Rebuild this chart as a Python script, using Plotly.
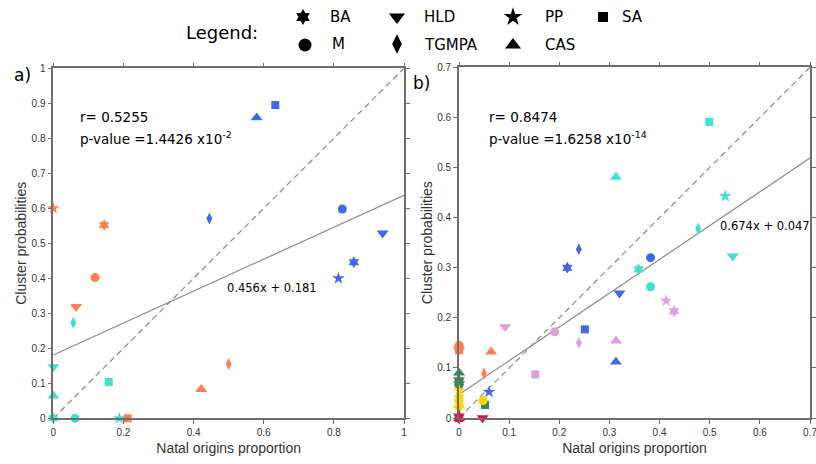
import plotly.graph_objects as go

W, H = 816, 464

symbols = ["BA", "M", "HLD", "TGMPA", "PP", "CAS", "SA"]
plotly_symbols = ["hexagram", "circle", "triangle-down", "diamond-tall", "star", "triangle-up", "square"]
symbol_sizes = [9, 9, 10.5, 8.5, 9.5, 10.5, 8]
legend_sizes = [12, 13, 14, 14, 14, 14, 10]

# Panel a) values, in symbol order BA, M, HLD, TGMPA, PP, CAS, SA
a_blue_x = [0.857, 0.824, 0.939, 0.445, 0.813, 0.580, 0.633]
a_blue_y = [0.446, 0.598, 0.529, 0.571, 0.400, 0.859, 0.895]
a_coral_x = [0.145, 0.119, 0.065, 0.500, 0.000, 0.422, 0.212]
a_coral_y = [0.552, 0.402, 0.319, 0.155, 0.600, 0.083, 0.000]
a_turq_x = [0.000, 0.062, 0.000, 0.057, 0.188, 0.000, 0.158]
a_turq_y = [0.000, 0.000, 0.147, 0.273, 0.000, 0.064, 0.104]

# Panel b) values
b_blue_x = [0.216, 0.382, 0.320, 0.239, 0.060, 0.313, 0.251]
b_blue_y = [0.300, 0.320, 0.249, 0.337, 0.052, 0.112, 0.177]
b_turq_x = [0.358, 0.382, 0.546, 0.477, 0.531, 0.313, 0.499]
b_turq_y = [0.297, 0.262, 0.323, 0.378, 0.443, 0.481, 0.591]
b_plum_x = [0.429, 0.191, 0.092, 0.239, 0.413, 0.313, 0.152]
b_plum_y = [0.213, 0.172, 0.182, 0.150, 0.234, 0.154, 0.087]
b_coral_x = [0.000, 0.000, 0.000, 0.050, 0.000, 0.064, 0.000]
b_coral_y = [0.140, 0.145, 0.136, 0.089, 0.138, 0.132, 0.135]
b_green_x = [0.000, 0.000, 0.000, 0.000, 0.000, 0.000, 0.052]
b_green_y = [0.072, 0.066, 0.068, 0.070, 0.077, 0.090, 0.026]
b_gold_x = [0.000, 0.048, 0.000, 0.000, 0.000, 0.000, 0.000]
b_gold_y = [0.040, 0.035, 0.020, 0.030, 0.055, 0.025, 0.035]
b_red_x = [0.000, 0.000, 0.047, 0.000, 0.000, 0.000, 0.000]
b_red_y = [0.000, 0.000, 0.000, 0.000, 0.005, 0.000, 0.000]

# Tick values
a_xticks = [0, 0.2, 0.4, 0.6, 0.8, 1]
a_xlabels = ["0", "0.2", "0.4", "0.6", "0.8", "1"]
a_yticks = [0, 0.1, 0.2, 0.3, 0.4, 0.5, 0.6, 0.7, 0.8, 0.9, 1]
a_ylabels = ["0", "0.1", "0.2", "0.3", "0.4", "0.5", "0.6", "0.7", "0.8", "0.9", "1"]
b_ticks = [0, 0.1, 0.2, 0.3, 0.4, 0.5, 0.6, 0.7]
b_labels = ["0", "0.1", "0.2", "0.3", "0.4", "0.5", "0.6", "0.7"]

# Regression fits
a_slope, a_icpt = 0.456, 0.181
b_slope, b_icpt = 0.674, 0.047
a_r, a_p_mant, a_p_exp = "0.5255", "1.4426", "-2"
b_r, b_p_mant, b_p_exp = "0.8474", "1.6258", "-14"
a_max, b_max = 1.0, 0.7

BLUE = "#4169E1"
TURQ = "#40E0D0"
CORAL = "#FF7F50"
PLUM = "#DDA0DD"
GREEN = "#2E8B57"
GOLD = "#FFD700"
RED = "#DC143C"

fig = go.Figure()

def px_x(p):
    return p / W

def px_y(p):
    return 1 - p / H

# Panel geometry (pixels)
A_L, A_R, A_T, A_B = 53.3, 404, 68.3, 418.3
B_L, B_R, B_T, B_B = 459, 810, 67.3, 418

def add_points(xs, ys, color, xa, ya):
    fig.add_trace(go.Scatter(
        x=xs, y=ys, mode="markers", xaxis=xa, yaxis=ya,
        marker=dict(symbol=plotly_symbols, color=color, size=symbol_sizes, opacity=1,
                    line=dict(width=0)),
        cliponaxis=False, showlegend=False, hoverinfo="x+y"))

def add_lines(mx, slope, icpt, xa, ya):
    fig.add_trace(go.Scatter(x=[0, mx], y=[0, mx], mode="lines", xaxis=xa, yaxis=ya,
                             line=dict(color="#8a8a8a", width=1.2, dash="6px,4px"),
                             showlegend=False, hoverinfo="skip"))
    fig.add_trace(go.Scatter(x=[0, mx], y=[icpt, icpt + slope * mx], mode="lines",
                             xaxis=xa, yaxis=ya,
                             line=dict(color="#8a8a8a", width=1.2),
                             showlegend=False, hoverinfo="skip"))

add_lines(a_max, a_slope, a_icpt, "x", "y")
add_lines(b_max, b_slope, b_icpt, "x2", "y2")

for xs, ys, c in [(a_turq_x, a_turq_y, TURQ), (a_coral_x, a_coral_y, CORAL), (a_blue_x, a_blue_y, BLUE)]:
    add_points(xs, ys, c, "x", "y")

for xs, ys, c in [(b_blue_x, b_blue_y, BLUE), (b_turq_x, b_turq_y, TURQ), (b_plum_x, b_plum_y, PLUM),
                  (b_coral_x, b_coral_y, CORAL), (b_green_x, b_green_y, GREEN),
                  (b_gold_x, b_gold_y, GOLD), (b_red_x, b_red_y, RED)]:
    add_points(xs, ys, c, "x2", "y2")

# Legend markers on an overlay pixel axis
leg_px = [(303, 17), (305, 45), (397, 17), (397, 44), (513, 17), (513, 45), (603, 17)]
leg_text_px = [(328, 17), (330, 44), (422, 17), (422, 45), (543, 17), (543, 45), (620, 17)]
fig.add_trace(go.Scatter(
    x=[p[0] for p in leg_px], y=[p[1] for p in leg_px], mode="markers",
    xaxis="x3", yaxis="y3",
    marker=dict(symbol=plotly_symbols, color="black", size=legend_sizes, opacity=1, line=dict(width=0)),
    showlegend=False, hoverinfo="skip", cliponaxis=False))

axis_common = dict(showline=True, linecolor="#6e6e6e", linewidth=1.6, mirror="ticks",
                   ticks="outside", ticklen=4, tickcolor="#6e6e6e", tickwidth=1.2, showgrid=False,
                   zeroline=False, automargin=False, tickmode="array", ticklabeloverflow="allow",
                   tickfont=dict(family="Liberation Sans", size=10, color="#333333"))
title_font = dict(family="Liberation Sans", size=14, color="#333333")

fig.update_layout(
    width=W, height=H, margin=dict(l=0, r=0, t=0, b=0, autoexpand=False),
    paper_bgcolor="white", plot_bgcolor="rgba(0,0,0,0)",
    xaxis=dict(domain=[px_x(A_L), px_x(A_R)], range=[0, a_max], tickvals=a_xticks, ticktext=a_xlabels,
               anchor="y", title=dict(text="Natal origins proportion", standoff=6, font=title_font),
               **axis_common),
    yaxis=dict(domain=[px_y(A_B), px_y(A_T)], range=[0, a_max], tickvals=a_yticks, ticktext=a_ylabels,
               anchor="x", title=dict(text="Cluster probabilities", standoff=2, font=title_font),
               **axis_common),
    xaxis2=dict(domain=[px_x(B_L), px_x(B_R)], range=[0, b_max], tickvals=b_ticks, ticktext=b_labels,
                anchor="y2", title=dict(text="Natal origins proportion", standoff=6, font=title_font),
                **axis_common),
    yaxis2=dict(domain=[px_y(B_B), px_y(B_T)], range=[0, b_max], tickvals=b_ticks, ticktext=b_labels,
                anchor="x2", title=dict(text="Cluster probabilities", standoff=1, font=title_font),
                **axis_common),
    xaxis3=dict(domain=[0, 1], range=[0, W], visible=False, anchor="y3", fixedrange=True, automargin=False),
    yaxis3=dict(domain=[0, 1], range=[H, 0], visible=False, anchor="x3", fixedrange=True, automargin=False),
)

ann_font = dict(family="DejaVu Sans", size=13.5, color="black")
fit_font = dict(family="DejaVu Sans", size=11.5, color="black")
anns = [
    dict(text="r= " + a_r, x=0.07, y=0.861, xref="x", yref="y", xanchor="left", showarrow=False, font=ann_font),
    dict(text="p-value =" + a_p_mant + " x10<sup>" + a_p_exp + "</sup>", x=0.07, y=0.80, xref="x", yref="y",
         xanchor="left", showarrow=False, font=ann_font),
    dict(text=f"{a_slope}x + {a_icpt}", x=0.49, y=0.372, xref="x", yref="y", xanchor="left",
         showarrow=False, font=fit_font),
    dict(text="r= " + b_r, x=0.056, y=0.60, xref="x2", yref="y2", xanchor="left", showarrow=False, font=ann_font),
    dict(text="p-value =" + b_p_mant + " x10<sup>" + b_p_exp + "</sup>", x=0.056, y=0.558, xref="x2", yref="y2",
         xanchor="left", showarrow=False, font=ann_font),
    dict(text=f"{b_slope}x + {b_icpt}", x=0.516, y=0.383, xref="x2", yref="y2", xanchor="left",
         showarrow=False, font=fit_font),
    dict(text="a)", x=px_x(12), y=px_y(75), xref="paper", yref="paper", xanchor="left", yanchor="middle",
         showarrow=False, font=dict(family="DejaVu Sans", size=17, color="black")),
    dict(text="b)", x=px_x(411), y=px_y(83), xref="paper", yref="paper", xanchor="left", yanchor="middle",
         showarrow=False, font=dict(family="DejaVu Sans", size=17, color="black")),
    dict(text="Legend:", x=px_x(184), y=px_y(32), xref="paper", yref="paper", xanchor="left", yanchor="middle",
         showarrow=False, font=dict(family="DejaVu Sans", size=18, color="black")),
]
for name, (tx, ty) in zip(symbols, leg_text_px):
    anns.append(dict(text=name, x=px_x(tx), y=px_y(ty), xref="paper", yref="paper", xanchor="left",
                     yanchor="middle", showarrow=False, font=dict(family="DejaVu Sans", size=15, color="black")))
fig.update_layout(annotations=anns)

fig.write_html("out.html", config={"displayModeBar": False},
               post_script="document.body.style.margin='0px';")
